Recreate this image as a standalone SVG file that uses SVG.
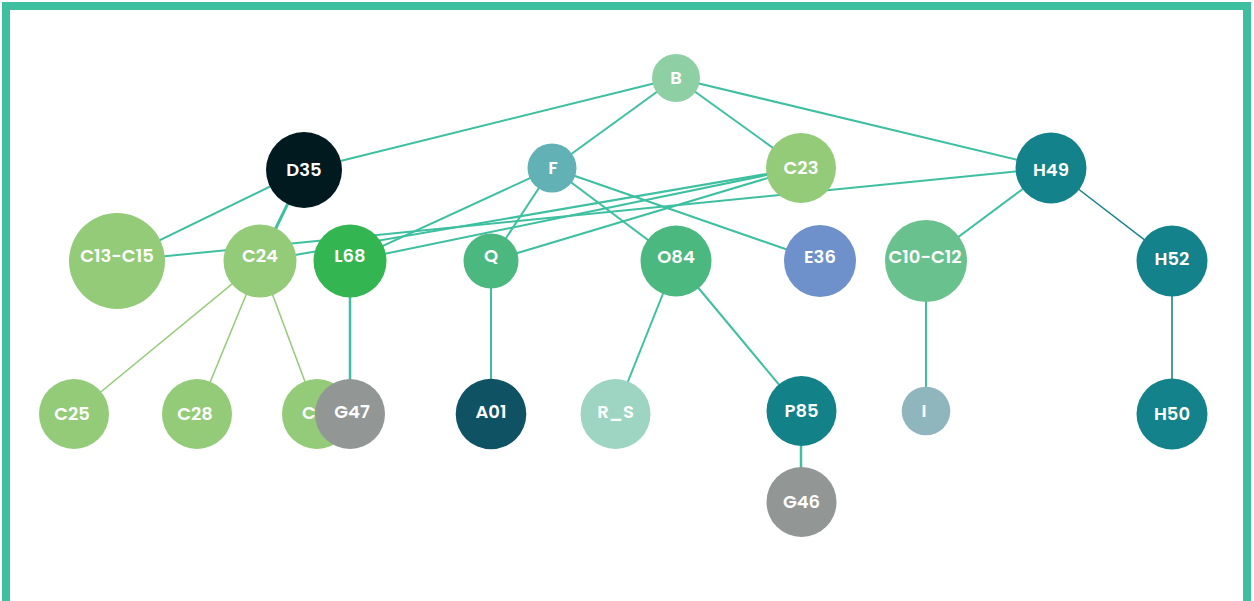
<svg xmlns="http://www.w3.org/2000/svg" width="1254" height="601" viewBox="0 0 1254 601">
<style>
.e{stroke:#3dbfa0;stroke-width:2;fill:none}
.eg{stroke:#93cb78;stroke-width:1.5;fill:none}
.t{font-family:Poppins,Inter,"Open Sans",sans-serif;font-weight:600;font-size:18px;fill:#ffffff;text-anchor:middle}
</style>
<rect x="0" y="0" width="1254" height="601" fill="#ffffff"/>
<rect x="6" y="6" width="1241" height="640" fill="none" stroke="#3dbfa0" stroke-width="8"/>
<g id="connectors">
<line class="e" x1="676" y1="78" x2="304" y2="170"/>
<line class="e" x1="676" y1="78" x2="552" y2="168"/>
<line class="e" x1="676" y1="78" x2="801" y2="168"/>
<line class="e" x1="676" y1="78" x2="1051" y2="168"/>
<line class="e" x1="304" y1="170" x2="117" y2="261"/>
<line class="e" x1="304" y1="170" x2="260" y2="261" style="stroke-width:3"/>
<line class="e" x1="552" y1="168" x2="350" y2="261"/>
<line class="e" x1="552" y1="168" x2="491" y2="261"/>
<line class="e" x1="552" y1="168" x2="676" y2="261"/>
<line class="e" x1="552" y1="168" x2="820" y2="261"/>
<line class="e" x1="801" y1="168" x2="260" y2="261"/>
<line class="e" x1="801" y1="168" x2="350" y2="261"/>
<line class="e" x1="801" y1="168" x2="491" y2="261"/>
<line class="e" x1="1051" y1="168" x2="117" y2="261"/>
<line class="e" x1="1051" y1="168" x2="926" y2="261"/>
<line x1="1051" y1="168" x2="1172" y2="261" stroke="#13828a" stroke-width="1.5"/>
<line x1="1172" y1="261" x2="1172" y2="414" stroke="#4f9a9c" stroke-width="2"/>
<line class="e" x1="926" y1="261" x2="926" y2="411"/>
<line class="e" x1="676" y1="261" x2="615" y2="414"/>
<line class="e" x1="676" y1="261" x2="801" y2="411"/>
<line class="e" x1="801" y1="411" x2="801" y2="502" style="stroke-width:2.5"/>
<line class="e" x1="491" y1="261" x2="491" y2="414"/>
<line class="e" x1="350" y1="261" x2="350" y2="414" style="stroke-width:2.5"/>
<line class="eg" x1="260" y1="261" x2="74" y2="414"/>
<line class="eg" x1="260" y1="261" x2="197" y2="414"/>
<line class="eg" x1="260" y1="261" x2="317" y2="414"/>
</g>
<g id="B"><circle cx="676" cy="78" r="24" fill="#8ecfa3"/><text class="t" x="676" y="84">B</text></g>
<g id="D35"><circle cx="304" cy="170" r="38" fill="#001a1f"/><text class="t" x="304" y="176">D35</text></g>
<g id="F"><circle cx="552" cy="168" r="24.5" fill="#62b1b5"/><text class="t" x="553" y="174">F</text></g>
<g id="C23"><circle cx="801" cy="168" r="35" fill="#93cb78"/><text class="t" x="801" y="174">C23</text></g>
<g id="H49"><circle cx="1051" cy="168" r="35.5" fill="#13828a"/><text class="t" x="1051" y="176">H49</text></g>
<g id="C13-C15"><circle cx="117" cy="261" r="48" fill="#93cb78"/><text class="t" x="117" y="262">C13-C15</text></g>
<g id="C24"><circle cx="260" cy="261" r="36.5" fill="#93cb78"/><text class="t" x="260" y="262">C24</text></g>
<g id="L68"><circle cx="350" cy="261" r="36.5" fill="#33b552"/><text class="t" x="350" y="262">L68</text></g>
<g id="Q"><circle cx="491" cy="261" r="27.5" fill="#4bb87f"/><text class="t" x="491" y="262">Q</text></g>
<g id="O84"><circle cx="676" cy="261" r="35.5" fill="#4bb87f"/><text class="t" x="676" y="263">O84</text></g>
<g id="E36"><circle cx="820" cy="261" r="36" fill="#6e91cb"/><text class="t" x="820" y="263">E36</text></g>
<g id="C10-C12"><circle cx="926" cy="261" r="41" fill="#69c28d"/><text class="t" x="925" y="263">C10-C12</text></g>
<g id="H52"><circle cx="1172" cy="261" r="35.5" fill="#13828a"/><text class="t" x="1172" y="265">H52</text></g>
<g id="C25"><circle cx="74" cy="414" r="35" fill="#93cb78"/><text class="t" x="72" y="420">C25</text></g>
<g id="C28"><circle cx="197" cy="414" r="35" fill="#93cb78"/><text class="t" x="195" y="420">C28</text></g>
<g id="C-hidden"><circle cx="317" cy="414" r="35" fill="#93cb78"/><text class="t" x="302" y="419" style="text-anchor:start">C</text></g>
<g id="G47"><circle cx="350" cy="414" r="35" fill="#929695"/><text class="t" x="352" y="418">G47</text></g>
<g id="A01"><circle cx="491" cy="414" r="35.3" fill="#0e5264"/><text class="t" x="491" y="418">A01</text></g>
<g id="R_S"><circle cx="615.5" cy="414" r="35" fill="#9dd5c2"/><text class="t" x="615.5" y="418">R_S</text></g>
<g id="P85"><circle cx="801.5" cy="411" r="35" fill="#138288"/><text class="t" x="801.5" y="417">P85</text></g>
<g id="G46"><circle cx="801.5" cy="502" r="35" fill="#929695"/><text class="t" x="801.5" y="508">G46</text></g>
<g id="I"><circle cx="926" cy="411" r="24.3" fill="#8fb5bd"/><text class="t" x="924" y="417">I</text></g>
<g id="H50"><circle cx="1172" cy="414" r="35.5" fill="#13828a"/><text class="t" x="1172" y="420">H50</text></g>
</svg>
